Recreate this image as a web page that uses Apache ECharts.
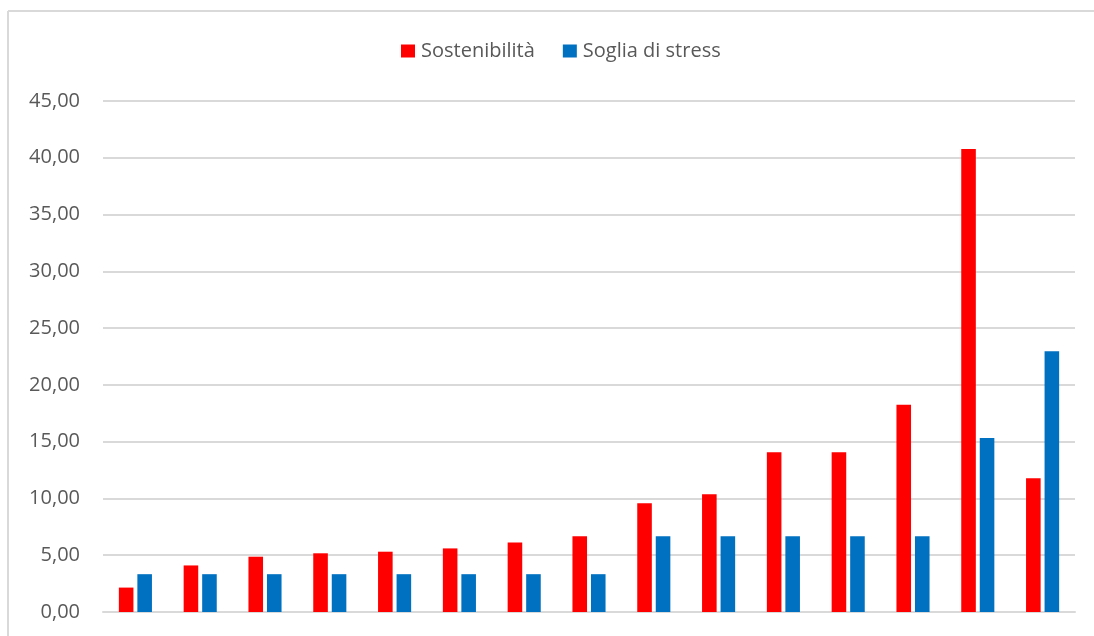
<!DOCTYPE html>
<html>
<head>
<meta charset="utf-8">
<style>
  html, body { margin: 0; padding: 0; background: #fff; }
  #chart { width: 1094px; height: 636px; }
</style>
<script src="https://cdn.jsdelivr.net/npm/echarts@6/dist/echarts.min.js"></script>
</head>
<body>
<div id="chart"></div>
<script>
// Fifteen groups, no category names shown on the axis
const categories = ['1', '2', '3', '4', '5', '6', '7', '8', '9', '10', '11', '12', '13', '14', '15'];
const sostenibilita = [2.15, 4.10, 4.87, 5.17, 5.31, 5.60, 6.13, 6.66, 9.57, 10.36, 14.07, 14.07, 18.24, 40.77, 11.77];
const sogliaStress = [3.33, 3.33, 3.33, 3.33, 3.33, 3.33, 3.33, 3.33, 6.67, 6.67, 6.67, 6.67, 6.67, 15.33, 22.97];
const yTicks = { min: 0, max: 45, interval: 5 };

const chart = echarts.init(document.getElementById('chart'), null, { renderer: 'canvas' });
const font = '"Open Sans", "Noto Sans", sans-serif';
const fmt = v => v.toFixed(2).replace('.', ',');

chart.setOption({
  animation: false,
  backgroundColor: '#ffffff',
  textStyle: { fontFamily: font },
  graphic: [
    // thin frame along the top and left edges
    { type: 'line', shape: { x1: 8, y1: 11, x2: 1094, y2: 11 }, style: { stroke: '#d9d9d9', lineWidth: 2 } },
    { type: 'line', shape: { x1: 8, y1: 11, x2: 8, y2: 636 }, style: { stroke: '#d9d9d9', lineWidth: 2 } }
  ],
  legend: {
    top: 36,
    left: 396,
    itemWidth: 14,
    itemHeight: 13,
    itemGap: 28,
    icon: 'rect',
    textStyle: { color: '#595959', fontSize: 20, fontFamily: font, padding: [0, 0, 0, 1] },
    data: ['Sostenibilità', 'Soglia di stress']
  },
  grid: { left: 103, right: 19, top: 101, bottom: 24, containLabel: false },
  xAxis: {
    type: 'category',
    data: categories,
    axisLine: { show: true, lineStyle: { color: '#d9d9d9', width: 2 } },
    axisTick: { show: false },
    axisLabel: { show: false }
  },
  yAxis: {
    type: 'value',
    min: yTicks.min,
    max: yTicks.max,
    interval: yTicks.interval,
    axisLine: { show: false },
    axisTick: { show: false },
    splitLine: { lineStyle: { color: '#d9d9d9', width: 2 } },
    axisLabel: { color: '#595959', fontSize: 20, fontFamily: font, margin: 23, formatter: fmt }
  },
  series: [
    {
      name: 'Sostenibilità',
      type: 'bar',
      data: sostenibilita,
      barWidth: '22.5%',
      barGap: '27%',
      itemStyle: { color: '#ff0000' }
    },
    {
      name: 'Soglia di stress',
      type: 'bar',
      data: sogliaStress,
      barWidth: '22.5%',
      itemStyle: { color: '#0070c0' }
    }
  ]
});
</script>
</body>
</html>
